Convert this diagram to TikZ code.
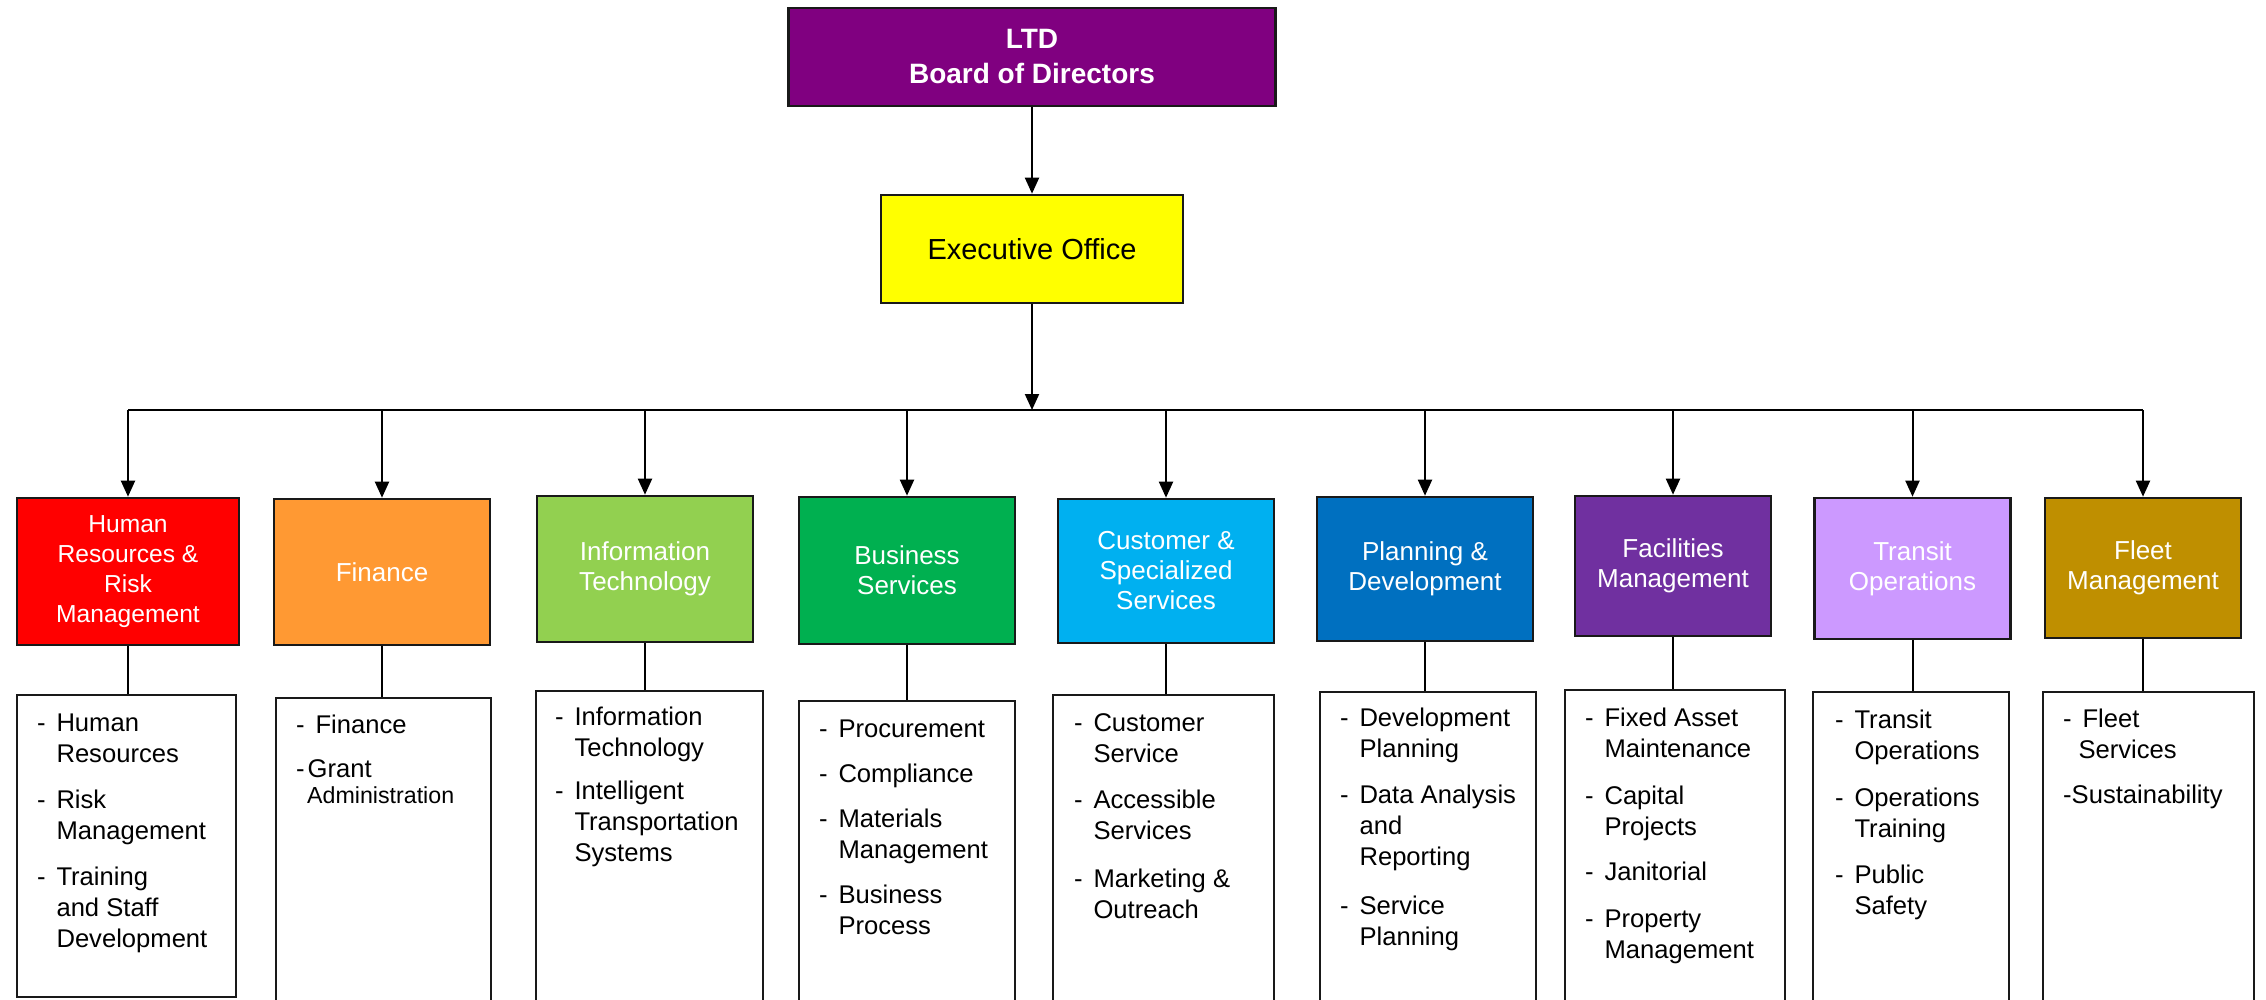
\documentclass[tikz,border=0pt]{standalone}
\usepackage{fontspec}
\setmainfont{Liberation Sans}
\usepackage{tikz}
\usetikzlibrary{arrows.meta, positioning}

\definecolor{boardpurple}{HTML}{800080}
\definecolor{execyellow}{HTML}{FFFF00}
\definecolor{hrred}{HTML}{FF0000}
\definecolor{finorange}{HTML}{FF9933}
\definecolor{itgreen}{HTML}{92D050}
\definecolor{bizgreen}{HTML}{00B050}
\definecolor{custblue}{HTML}{00B0F0}
\definecolor{planblue}{HTML}{0070C0}
\definecolor{facpurple}{HTML}{7030A0}
\definecolor{translilac}{HTML}{CC99FF}
\definecolor{fleetgold}{HTML}{BF8F00}

\tikzset{
  box/.style={draw=black!90, line width=1.3pt, inner sep=0pt, align=center},
  dept/.style={box, text=white, minimum width=108pt, minimum height=72pt, font=\fontsize{13}{15}\selectfont},
  deptn/.style={dept, minimum width=98pt, minimum height=70pt},
  listbox/.style={draw=black!90, line width=1.2pt, anchor=north, minimum height=160pt, inner sep=0pt},
  items/.style={anchor=north west, inner sep=0pt, font=\fontsize{12.8}{15.5}\selectfont},
  link/.style={line width=1pt, -{Triangle[length=8pt, width=7pt]}},
  tie/.style={line width=1pt},
}
\newcommand{\itemtab}[1]{\begin{tabular}{@{}l@{\hspace{5.4pt}}l@{}}#1\end{tabular}}

\begin{document}
\begin{tikzpicture}[x=0.5pt, y=-0.5pt]
\clip (0,0) rectangle (2266,1000);

% Board and executive office
\node[box, fill=boardpurple, text=white, minimum width=243.5pt, minimum height=49pt, font=\bfseries\fontsize{14}{17.5}\selectfont] (board) at (1032,57) {LTD\\Board of Directors};
\node[box, fill=execyellow, minimum width=151pt, minimum height=54pt, font=\fontsize{14.5}{17}\selectfont] (exec) at (1032,249) {Executive Office};
\coordinate (spine) at (1032,410);

% Departments
\node[dept, fill=hrred, minimum width=111pt, minimum height=73.5pt, font=\fontsize{12.3}{15}\selectfont] (hr) at (128,571.5) {Human\\Resources \&\\Risk\\Management};
\node[dept, fill=finorange, minimum height=73pt] (fin) at (382,572) {Finance};
\node[dept, fill=itgreen, minimum height=73pt] (it) at (645,569) {Information\\Technology};
\node[dept, fill=bizgreen, minimum height=73.5pt] (biz) at (907,570.5) {Business\\Services};
\node[dept, fill=custblue] (cust) at (1166,571) {Customer \&\\Specialized\\Services};
\node[dept, fill=planblue] (plan) at (1425,569) {Planning \&\\Development};
\node[deptn, fill=facpurple] (fac) at (1673,566) {Facilities\\Management};
\node[deptn, fill=translilac, minimum height=70.5pt] (trans) at (1912.5,568.5) {Transit\\Operations};
\node[deptn, fill=fleetgold] (fleet) at (2143,568) {Fleet\\Management};

% Lists of units
\node[listbox, minimum width=109.5pt, minimum height=151pt] (hrlist) at (126.5,694) {};
\node[listbox, minimum width=107.5pt] (finlist) at (383.5,697) {};
\node[listbox, minimum width=113.5pt] (itlist) at (649.5,690) {};
\node[listbox, minimum width=108pt] (bizlist) at (907,700) {};
\node[listbox, minimum width=110.5pt] (custlist) at (1163.5,694) {};
\node[listbox, minimum width=108pt] (planlist) at (1428,691) {};
\node[listbox, minimum width=110pt] (faclist) at (1675,689) {};
\node[listbox, minimum width=98pt] (translist) at (1911,691) {};
\node[listbox, minimum width=105.5pt] (fleetlist) at (2148.5,691) {};

\node[items] (hrtxt) at ([shift={(21,15)}]hrlist.north west) {\itemtab{- & Human\\ & Resources\\[7.5pt] - & Risk\\ & Management\\[7.5pt] - & Training\\ & and Staff\\ & Development}};
\node[items] (fintxt) at ([shift={(21,14)}]finlist.north west) {\itemtab{- & Finance\\[6.5pt] \multicolumn{2}{@{}l@{}}{-\hspace{1.5pt}Grant}\\[-2.5pt] \multicolumn{2}{@{}l@{}}{\hspace{5.5pt}\fontsize{11.6}{13}\selectfont Administration}}};
\node[items] (ittxt) at ([shift={(20,13)}]itlist.north west) {\itemtab{- & Information\\ & Technology\\[6pt] - & Intelligent\\ & Transportation\\ & Systems}};
\node[items] (biztxt) at ([shift={(21,15)}]bizlist.north west) {\itemtab{- & Procurement\\[7pt] - & Compliance\\[7pt] - & Materials\\ & Management\\[7pt] - & Business\\ & Process}};
\node[items] (custtxt) at ([shift={(22,15)}]custlist.north west) {\itemtab{- & Customer\\ & Service\\[7.5pt] - & Accessible\\ & Services\\[8.5pt] - & Marketing \&\\ & Outreach}};
\node[items] (plantxt) at ([shift={(21,13)}]planlist.north west) {\itemtab{- & Development\\ & Planning\\[7.5pt] - & Data Analysis\\ & and\\ & Reporting\\[9pt] - & Service\\ & Planning}};
\node[items] (factxt) at ([shift={(21,15)}]faclist.north west) {\itemtab{- & Fixed Asset\\ & Maintenance\\[8pt] - & Capital\\ & Projects\\[7pt] - & Janitorial\\[8pt] - & Property\\ & Management}};
\node[items] (transtxt) at ([shift={(23,15)}]translist.north west) {\itemtab{- & Transit\\ & Operations\\[8pt] - & Operations\\ & Training\\[7.5pt] - & Public\\ & Safety}};
\node[items] (fleettxt) at ([shift={(21,14)}]fleetlist.north west) {\itemtab{- & Fleet\\ & \hspace{-2pt}Services\\[7pt] \multicolumn{2}{@{}l@{}}{-Sustainability}}};

% Links
\draw[link] (board) -- (exec);
\draw[link] (exec) -- (spine);
\draw[tie] (spine -| hr) -- (spine -| fleet);
\draw[link] (spine -| hr) -- (hr);
\draw[link] (spine -| fin) -- (fin);
\draw[link] (spine -| it) -- (it);
\draw[link] (spine -| biz) -- (biz);
\draw[link] (spine -| cust) -- (cust);
\draw[link] (spine -| plan) -- (plan);
\draw[link] (spine -| fac) -- (fac);
\draw[link] (spine -| trans) -- (trans);
\draw[link] (spine -| fleet) -- (fleet);

\draw[tie] (hr) -- (hr |- hrlist.north);
\draw[tie] (fin) -- (fin |- finlist.north);
\draw[tie] (it) -- (it |- itlist.north);
\draw[tie] (biz) -- (biz |- bizlist.north);
\draw[tie] (cust) -- (cust |- custlist.north);
\draw[tie] (plan) -- (plan |- planlist.north);
\draw[tie] (fac) -- (fac |- faclist.north);
\draw[tie] (trans) -- (trans |- translist.north);
\draw[tie] (fleet) -- (fleet |- fleetlist.north);
\end{tikzpicture}
\end{document}
